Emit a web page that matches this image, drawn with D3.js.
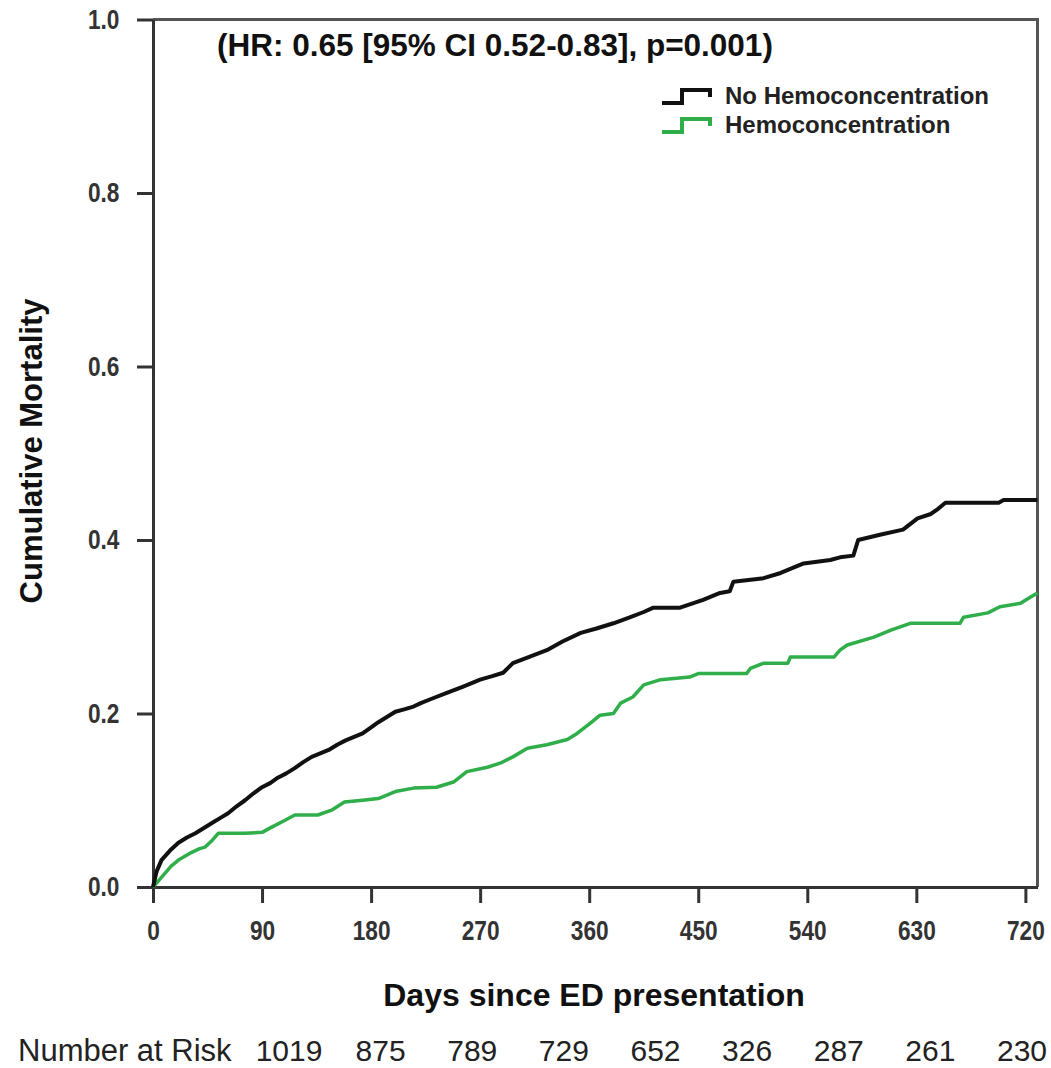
<!DOCTYPE html>
<html>
<head>
<meta charset="utf-8">
<script src="https://cdn.jsdelivr.net/npm/d3@7"></script>
<style>
    body { margin: 0; background: #fff; }
    svg text { font-family: "Liberation Sans", Arial, sans-serif; }
</style>
</head>
<body>
<div id="chart_container"></div>
<script>
// cumulative mortality, [day, value]
let noHemoData = [
    [0, 0], [3, 0.018], [7, 0.031], [14, 0.042], [21, 0.051], [28, 0.057], [35, 0.062],
    [42, 0.068], [49, 0.074], [56, 0.080], [62, 0.085], [69, 0.093], [76, 0.100], [83, 0.108],
    [90, 0.115], [97, 0.120], [103, 0.126], [110, 0.131], [117, 0.137], [124, 0.144], [131, 0.150],
    [138, 0.154], [145, 0.158], [152, 0.164], [159, 0.169], [166, 0.173], [173, 0.177], [180, 0.184],
    [186, 0.190], [193, 0.196], [200, 0.202], [208, 0.205], [215, 0.208], [221, 0.212], [230, 0.217],
    [243, 0.224], [256, 0.231], [270, 0.239], [280, 0.243], [289, 0.247], [297, 0.258], [310, 0.265],
    [325, 0.273], [338, 0.283], [353, 0.293], [366, 0.298], [380, 0.304], [394, 0.311], [405, 0.317],
    [413, 0.322], [435, 0.322], [454, 0.331], [468, 0.339], [476, 0.341], [479, 0.352], [504, 0.356],
    [518, 0.362], [537, 0.373], [559, 0.377], [567, 0.380], [578, 0.382], [582, 0.400], [600, 0.406],
    [619, 0.412], [631, 0.425], [642, 0.430], [648, 0.436], [654, 0.443], [698, 0.443], [702, 0.446],
    [730, 0.446]
];

let hemoData = [
    [0, 0], [5, 0.008], [10, 0.016], [15, 0.024], [21, 0.031], [27, 0.036], [32, 0.040],
    [38, 0.044], [43, 0.046], [49, 0.054], [54, 0.062], [76, 0.062], [90, 0.063], [98, 0.069],
    [109, 0.077], [117, 0.083], [136, 0.083], [148, 0.089], [158, 0.098], [173, 0.100], [186, 0.102],
    [200, 0.110], [215, 0.114], [234, 0.115], [248, 0.121], [259, 0.133], [276, 0.138], [287, 0.143],
    [297, 0.150], [309, 0.160], [325, 0.164], [342, 0.170], [350, 0.177], [361, 0.189], [369, 0.198],
    [380, 0.200], [386, 0.212], [396, 0.219], [405, 0.233], [419, 0.239], [443, 0.242], [450, 0.246],
    [490, 0.246], [493, 0.252], [504, 0.258], [524, 0.258], [526, 0.265], [562, 0.265], [567, 0.273],
    [573, 0.279], [595, 0.288], [609, 0.296], [625, 0.304], [666, 0.304], [669, 0.311], [689, 0.316],
    [699, 0.323], [716, 0.327], [724, 0.334], [730, 0.339]
];

let xTicks = [0, 90, 180, 270, 360, 450, 540, 630, 720];
let yTicks = [0, 0.2, 0.4, 0.6, 0.8, 1.0];
let numberAtRisk = [1019, 875, 789, 729, 652, 326, 287, 261, 230];
let seriesNames = ['No Hemoconcentration', 'Hemoconcentration'];
let seriesColors = ['#111111', '#2fae4a'];

let width = 1051, height = 1068;
let margin = { top: 19.5, right: 13.5, bottom: 181, left: 153 };

let svg = d3.select('#chart_container')
    .append('svg')
    .attr('width', width)
    .attr('height', height);

let x = d3.scaleLinear().domain([0, 730]).range([margin.left, width - margin.right]);
let y = d3.scaleLinear().domain([0, 1]).range([height - margin.bottom, margin.top]);

// top and right part of the box
svg.append('path')
    .attr('d', 'M' + x(0) + ',' + y(1) + 'H' + x(730) + 'V' + y(0))
    .attr('fill', 'none')
    .attr('stroke', '#555')
    .attr('stroke-width', 3);

// y axis
let yAxis = svg.append('g')
    .attr('transform', 'translate(' + x(0) + ',0)')
    .call(d3.axisLeft(y).tickValues(yTicks).tickFormat(d3.format('.1f')).tickSize(16).tickSizeOuter(0).tickPadding(24));

// x axis
let xAxis = svg.append('g')
    .attr('transform', 'translate(0,' + y(0) + ')')
    .call(d3.axisBottom(x).tickValues(xTicks).tickSize(16).tickSizeOuter(0).tickPadding(18));

[yAxis, xAxis].forEach(function (g) {
    g.select('.domain').attr('stroke', '#333').attr('stroke-width', 3);
    g.selectAll('.tick line').attr('stroke', '#333').attr('stroke-width', 3);
    // the tick labels in the figure are condensed, squeeze them a bit
    g.selectAll('.tick text')
        .attr('fill', '#333')
        .attr('transform', 'scale(0.84,1)')
        .style('font-size', '27px')
        .style('font-weight', 'bold');
});

// curves
let line = d3.line()
    .x(function (d) { return x(d[0]); })
    .y(function (d) { return y(d[1]); });

svg.append('path')
    .datum(hemoData)
    .attr('d', line)
    .attr('fill', 'none')
    .attr('stroke', seriesColors[1])
    .attr('stroke-width', 3.5)
    .attr('stroke-linejoin', 'round');

svg.append('path')
    .datum(noHemoData)
    .attr('d', line)
    .attr('fill', 'none')
    .attr('stroke', seriesColors[0])
    .attr('stroke-width', 4)
    .attr('stroke-linejoin', 'round');

// hazard ratio annotation
svg.append('text')
    .attr('x', 217)
    .attr('y', 56)
    .style('font-size', '31.5px')
    .style('font-weight', 'bold')
    .attr('fill', '#111')
    .text('(HR: 0.65 [95% CI 0.52-0.83], p=0.001)');

// legend
let legend = svg.append('g').attr('transform', 'translate(662,0)');
seriesNames.forEach(function (name, i) {
    let base = 103 + i * 29;
    legend.append('path')
        .attr('d', 'M0,' + base + 'H20V' + (base - 13) + 'H48V' + (base - 6))
        .attr('fill', 'none')
        .attr('stroke', seriesColors[i])
        .attr('stroke-width', 4);
    legend.append('text')
        .attr('x', 63)
        .attr('y', base + 1)
        .style('font-size', '24px')
        .style('font-weight', 'bold')
        .attr('fill', '#222')
        .text(name);
});

// axis titles
svg.append('text')
    .attr('transform', 'translate(42,451) rotate(-90)')
    .style('text-anchor', 'middle')
    .style('font-size', '31px')
    .style('font-weight', 'bold')
    .attr('fill', '#111')
    .text('Cumulative Mortality');

svg.append('text')
    .attr('x', 594)
    .attr('y', 1006)
    .style('text-anchor', 'middle')
    .style('font-size', '32px')
    .style('font-weight', 'bold')
    .attr('fill', '#111')
    .text('Days since ED presentation');

// number at risk row
let riskX = d3.scalePoint().domain(d3.range(numberAtRisk.length)).range([289, 1022]);

svg.append('text')
    .attr('x', 18)
    .attr('y', 1061)
    .style('font-size', '31px')
    .attr('fill', '#222')
    .text('Number at Risk');

svg.selectAll('.risk')
    .data(numberAtRisk)
    .enter()
    .append('text')
    .attr('class', 'risk')
    .attr('x', function (d, i) { return riskX(i); })
    .attr('y', 1061)
    .style('text-anchor', 'middle')
    .style('font-size', '30px')
    .attr('fill', '#222')
    .text(function (d) { return d; });
</script>
</body>
</html>
